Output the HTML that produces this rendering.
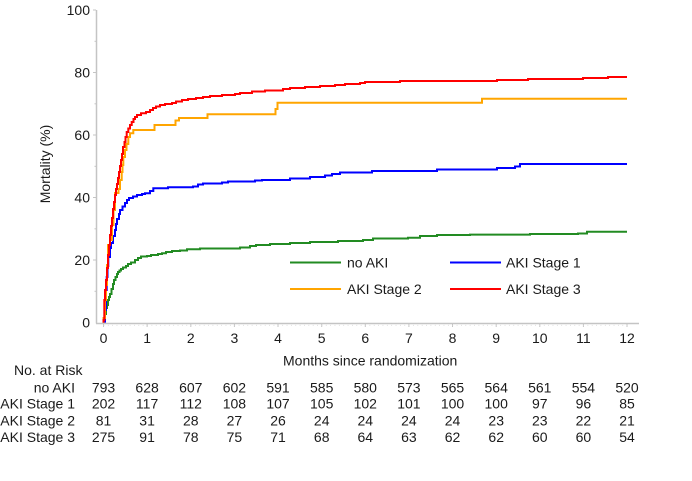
<!DOCTYPE html>
<html><head><meta charset="utf-8"><style>
html,body{margin:0;padding:0;background:#fff;}
svg{display:block;}
text{font-family:"Liberation Sans",Arial,sans-serif;fill:#1a1a1a;font-size:14px;}
</style></head><body>
<svg width="692" height="481" viewBox="0 0 692 481" xmlns="http://www.w3.org/2000/svg">
<rect width="692" height="481" fill="#fff"/>
<g stroke="#c4c4c4" stroke-width="1.5" fill="none">
<line x1="96.5" y1="10" x2="96.5" y2="323.5"/>
<line x1="96" y1="323.5" x2="639" y2="323.5"/>
</g>
<g stroke="#c4c4c4" stroke-width="1">
<line x1="93" y1="10" x2="96" y2="10"/><line x1="93" y1="72.5" x2="96" y2="72.5"/><line x1="93" y1="135" x2="96" y2="135"/><line x1="93" y1="197.5" x2="96" y2="197.5"/><line x1="93" y1="260" x2="96" y2="260"/>
<line x1="94.5" y1="41.3" x2="96" y2="41.3"/><line x1="94.5" y1="103.8" x2="96" y2="103.8"/><line x1="94.5" y1="166.3" x2="96" y2="166.3"/><line x1="94.5" y1="228.8" x2="96" y2="228.8"/><line x1="94.5" y1="291.3" x2="96" y2="291.3"/>
</g>
<g stroke="#c4c4c4" stroke-width="1">
<line x1="103.5" y1="324" x2="103.5" y2="327"/><line x1="147.1" y1="324" x2="147.1" y2="327"/><line x1="190.8" y1="324" x2="190.8" y2="327"/><line x1="234.4" y1="324" x2="234.4" y2="327"/><line x1="278" y1="324" x2="278" y2="327"/><line x1="321.7" y1="324" x2="321.7" y2="327"/><line x1="365.3" y1="324" x2="365.3" y2="327"/><line x1="408.9" y1="324" x2="408.9" y2="327"/><line x1="452.5" y1="324" x2="452.5" y2="327"/><line x1="496.2" y1="324" x2="496.2" y2="327"/><line x1="539.8" y1="324" x2="539.8" y2="327"/><line x1="583.4" y1="324" x2="583.4" y2="327"/><line x1="627" y1="324" x2="627" y2="327"/>
</g>
<g stroke="#d4d4d4" stroke-width="0.8" stroke-dasharray="0.8 3.56">
<line x1="103.5" y1="325.3" x2="627" y2="325.3"/>
</g>
<g text-anchor="end">
<text x="90" y="15">100</text><text x="90" y="77.5">80</text><text x="90" y="140">60</text><text x="90" y="202.5">40</text><text x="90" y="265">20</text><text x="90" y="327.5">0</text>
</g>
<text transform="translate(50,164) rotate(-90)" text-anchor="middle">Mortality (%)</text>
<g text-anchor="middle">
<text x="103.5" y="343">0</text><text x="147.1" y="343">1</text><text x="190.8" y="343">2</text><text x="234.4" y="343">3</text><text x="278" y="343">4</text><text x="321.7" y="343">5</text><text x="365.3" y="343">6</text><text x="408.9" y="343">7</text><text x="452.5" y="343">8</text><text x="496.2" y="343">9</text><text x="539.8" y="343">10</text><text x="583.4" y="343">11</text><text x="627" y="343">12</text>
</g>
<text x="283" y="365.5">Months since randomization</text>
<g fill="none" stroke-width="2" stroke-linejoin="miter">
<path stroke="#228b22" d="M103.5,322.6 V318 H105 V314 H106 V308 H107 V305 H108 V300 H109 V297 H110 V294 H111.5 V289 H113 V284 H114 V280 H115.5 V277 H117 V274 H118 V272 H119.5 V270.5 H121 V269 H123 V267.5 H126 V266 H128 V264 H131 V262.5 H135 V260 H138 V258 H141 V256.5 H147 V256 H151 V255 H158 V254 H162 V253.3 H166 V252 H172 V251 H180 V250.5 H187 V249.3 H200 V248.5 H240 V247.5 H250 V246 H256 V245 H270 V244 H290 V243 H310 V242 H338 V241 H363 V240 H373 V238.5 H408 V237.8 H420 V236 H437 V235 H470 V234.6 H530 V234 H578 V233.5 H587 V231.8 H627"/>
<path stroke="#0000ff" d="M105,322.6 V310 H106 V290 H106.7 V277 H107.5 V266 H108.3 V257 H110 V248 H111 V243 H113 V236 H115 V230 H116 V224 H117 V219 H119 V214 H120 V210 H122.5 V206.5 H125 V203 H127 V200 H129 V198 H133 V196.5 H137 V195 H142 V194 H145 V193.3 H150 V191 H153.3 V188.3 H168 V187.3 H193 V186.5 H198 V184.5 H203 V183.5 H222 V182.5 H228 V181.5 H255 V180.5 H262 V180 H290 V178.5 H310 V177 H325 V175.5 H332 V174 H340 V172.5 H372 V171 H437 V169.5 H497 V168 H515 V166.5 H520 V164 H627"/>
<path stroke="#ffa500" d="M103.5,322.6 V318 H105 V300 H106 V285 H107 V265 H108 V245 H110 V240 H112 V225 H113.5 V210 H115 V193 H118.5 V189 H120 V180 H121.7 V172 H122.5 V165 H123.3 V157 H125 V150 H126.5 V144 H128.3 V137 H130 V133.3 H133.3 V130 H154.5 V125 H175.5 V120.5 H179 V118 H207.5 V114.3 H275.5 V109 H277.5 V102.7 H482 V98.7 H627"/>
<path stroke="#ff0000" d="M103.5,322.6 V320 H104.3 V300 H105 V290 H106 V280 H107 V268 H108 V255 H109 V245 H110 V235 H111 V226 H112 V218 H113 V209 H114 V202 H115 V195 H116 V189 H117 V184 H118 V178 H119 V172 H120 V166 H121 V160 H122 V154 H123 V147 H124.5 V142 H125.5 V137 H126.7 V132 H128.3 V128.5 H130 V125 H131.7 V122 H133.5 V119 H135 V117 H137 V115 H141 V113.3 H146 V112 H150 V110 H153 V108 H156 V106.5 H160 V105 H165 V104 H172 V103 H176 V101.5 H182 V100 H188 V99 H196 V98 H203 V97 H210 V96 H222 V95 H235 V94 H240 V93 H252 V91.5 H265 V90.5 H283 V89 H290 V88 H305 V87 H320 V86 H335 V85 H345 V84 H360 V83 H365 V82 H400 V81 H497 V80 H528 V79 H583 V78 H608 V77 H627"/>
</g>
<g stroke-width="2">
<line x1="290" y1="262.5" x2="341" y2="262.5" stroke="#228b22"/>
<line x1="450" y1="262.5" x2="501" y2="262.5" stroke="#0000ff"/>
<line x1="290" y1="289" x2="341" y2="289" stroke="#ffa500"/>
<line x1="450" y1="289" x2="501" y2="289" stroke="#ff0000"/>
</g>
<text x="347" y="267.5">no AKI</text>
<text x="506" y="267.5">AKI Stage 1</text>
<text x="347" y="294">AKI Stage 2</text>
<text x="506" y="294">AKI Stage 3</text>
<text x="14" y="375">No. at Risk</text>
<g text-anchor="end">
<text x="75" y="392.5">no AKI</text>
<text x="75" y="408.5">AKI Stage 1</text>
<text x="75" y="425.5">AKI Stage 2</text>
<text x="75" y="442">AKI Stage 3</text>
</g>
<g text-anchor="middle">
<text y="392.5"><tspan x="103.5">793</tspan><tspan x="147.1">628</tspan><tspan x="190.8">607</tspan><tspan x="234.4">602</tspan><tspan x="278">591</tspan><tspan x="321.7">585</tspan><tspan x="365.3">580</tspan><tspan x="408.9">573</tspan><tspan x="452.5">565</tspan><tspan x="496.2">564</tspan><tspan x="539.8">561</tspan><tspan x="583.4">554</tspan><tspan x="627">520</tspan></text>
<text y="408.5"><tspan x="103.5">202</tspan><tspan x="147.1">117</tspan><tspan x="190.8">112</tspan><tspan x="234.4">108</tspan><tspan x="278">107</tspan><tspan x="321.7">105</tspan><tspan x="365.3">102</tspan><tspan x="408.9">101</tspan><tspan x="452.5">100</tspan><tspan x="496.2">100</tspan><tspan x="539.8">97</tspan><tspan x="583.4">96</tspan><tspan x="627">85</tspan></text>
<text y="425.5"><tspan x="103.5">81</tspan><tspan x="147.1">31</tspan><tspan x="190.8">28</tspan><tspan x="234.4">27</tspan><tspan x="278">26</tspan><tspan x="321.7">24</tspan><tspan x="365.3">24</tspan><tspan x="408.9">24</tspan><tspan x="452.5">24</tspan><tspan x="496.2">23</tspan><tspan x="539.8">23</tspan><tspan x="583.4">22</tspan><tspan x="627">21</tspan></text>
<text y="442"><tspan x="103.5">275</tspan><tspan x="147.1">91</tspan><tspan x="190.8">78</tspan><tspan x="234.4">75</tspan><tspan x="278">71</tspan><tspan x="321.7">68</tspan><tspan x="365.3">64</tspan><tspan x="408.9">63</tspan><tspan x="452.5">62</tspan><tspan x="496.2">62</tspan><tspan x="539.8">60</tspan><tspan x="583.4">60</tspan><tspan x="627">54</tspan></text>
</g>
</svg>
</body></html>
